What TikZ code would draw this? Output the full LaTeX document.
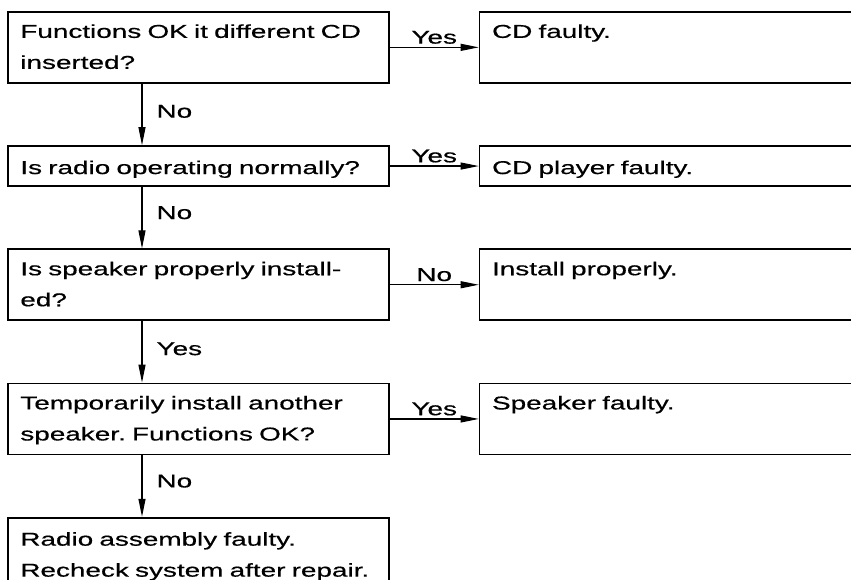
\documentclass[tikz,border=0pt]{standalone}
\usepackage{fontspec}
\setsansfont{Liberation Sans}[FakeStretch=1.5, WordSpace=1.4, FakeBold=0.5]
\usetikzlibrary{positioning, calc, arrows.meta}
\frenchspacing

\begin{document}
\begin{tikzpicture}[
		x=1pt, y=-1pt,
		font=\sffamily\fontsize{18.6}{31}\selectfont,
		% Style for the boxes (questions left, results right)
		qbox/.style={
			draw, line width=1.7pt, align=left,
			text width=356pt, inner xsep=12.5pt, inner ysep=0pt,
			text height=26pt, text depth=45pt
		},
		% single line boxes are lower
		lowbox/.style={text height=28pt, text depth=12pt},
		rbox/.style={qbox, text width=400pt},
		% Connector styles
		arrow/.style={-{Triangle[length=18pt, width=7pt]}, line width=1.1pt},
		ans/.style={inner sep=3pt},
		node distance=61.5pt and 89pt
		]
		
		% fixed frame of the picture
		\useasboundingbox (0,0) rectangle (851,580);
		\coordinate (spine) at (142,0);
		
		% --- 1. Questions down the left side ---
		\node[qbox, anchor=north west] (q1) at (7,11) {Functions OK it different CD\\inserted?};
		\node[qbox, lowbox, below=of q1] (q2) {Is radio operating normally?};
		\node[qbox, below=of q2] (q3) {Is speaker properly install-\\ed?};
		\node[qbox, below=of q3] (q4) {Temporarily install another\\speaker. Functions OK?};
		\node[qbox, below=of q4, text height=28pt, text depth=80pt] (q5) {Radio assembly faulty.\\Recheck~system~after~repair.};
		
		% --- 2. Results on the right side ---
		\node[rbox, right=of q1] (r1) {CD faulty.};
		\node[rbox, lowbox, right=of q2] (r2) {CD player faulty.};
		\node[rbox, right=of q3] (r3) {Install properly.};
		\node[rbox, right=of q4] (r4) {Speaker faulty.};
		
		% --- 3. Arrows down the spine ---
		\draw[arrow] (q1.south -| spine) -- node[ans, pos=0.45, right=11pt] {No} (q2.north -| spine);
		\draw[arrow] (q2.south -| spine) -- node[ans, pos=0.42, right=11pt] {No} (q3.north -| spine);
		\draw[arrow] (q3.south -| spine) -- node[ans, pos=0.45, right=11pt] {Yes} (q4.north -| spine);
		\draw[arrow] (q4.south -| spine) -- node[ans, pos=0.42, right=11pt] {No} (q5.north -| spine);
		
		% --- 4. Arrows to the results ---
		\draw[arrow] (q1) -- node[ans, above] {Yes} (r1);
		\draw[arrow] (q2) -- node[ans, above] {Yes} (r2);
		\draw[arrow] (q3) -- node[ans, above] {No} (r3);
		\draw[arrow] (q4) -- node[ans, above] {Yes} (r4);
		
	\end{tikzpicture}
\end{document}
